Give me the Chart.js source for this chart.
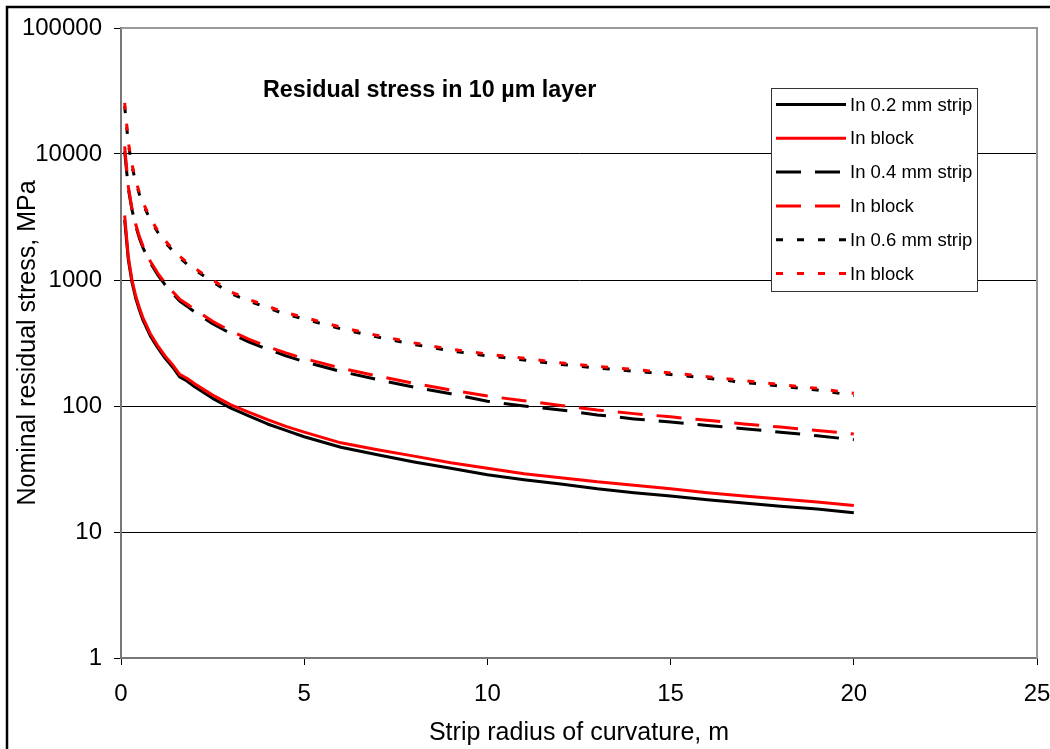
<!DOCTYPE html>
<html>
<head>
<meta charset="utf-8">
<script src="https://cdn.jsdelivr.net/npm/chart.js@4.4.1/dist/chart.umd.min.js"></script>
<style>
  body { margin: 0; background: #fff; }
  #wrap { width: 1050px; height: 749px; position: relative; }
</style>
</head>
<body>
<div id="wrap"><canvas id="myChart"></canvas></div>
<script>
// strip radius of curvature, m
const radius = [0.1, 0.2, 0.3, 0.4, 0.5, 0.6, 0.8, 1.0, 1.2, 1.4, 1.6, 1.8, 2.0, 2.5, 3, 3.5, 4, 4.5, 5,
  6, 7, 8, 9, 10, 11, 12, 13, 14, 15, 16, 17, 18, 19, 20];

// nominal residual stress, MPa
const strip02 = [3000, 1450, 960, 720, 580, 480, 360, 290, 240, 205, 170, 158, 143, 115, 96, 83, 72, 64, 57,
  47, 41, 36, 32, 28.5, 26, 24, 22, 20.5, 19.3, 18, 17, 16, 15.2, 14.2];
const block02 = [3250, 1520, 1000, 750, 605, 500, 375, 302, 250, 214, 178, 166, 151, 122, 102, 89, 78, 69, 62,
  51, 45, 40, 35.5, 32, 29, 27, 25, 23.5, 22, 20.5, 19.3, 18.3, 17.3, 16.2];
const strip04 = [10500, 5300, 3600, 2700, 2150, 1800, 1370, 1100, 920, 790, 680, 620, 560, 450, 375, 322, 282, 250, 225,
  188, 162, 141, 125, 109, 100, 93, 85, 79, 74.5, 70, 66, 62, 58, 54];
const block04 = [11500, 5500, 3700, 2780, 2220, 1860, 1410, 1135, 950, 815, 705, 645, 585, 470, 393, 338, 296, 264, 238,
  200, 173, 151, 134, 120, 110, 101, 93, 87, 82, 77, 72, 68, 64, 60];
const strip06 = [24000, 12000, 8000, 6000, 4800, 4000, 3000, 2400, 2000, 1720, 1500, 1340, 1210, 970, 780, 680, 600, 535, 490,
  410, 352, 308, 274, 250, 232, 214, 200, 189, 178, 166, 154, 144, 134, 121];
const block06 = [25500, 12400, 8250, 6200, 4950, 4120, 3090, 2470, 2060, 1770, 1545, 1380, 1245, 1000, 805, 700, 618, 551, 505,
  422, 363, 317, 282, 258, 239, 220, 206, 195, 183, 171, 159, 148, 138, 126];

const seriesNames = ['In 0.2 mm strip', 'In block', 'In 0.4 mm strip', 'In block', 'In 0.6 mm strip', 'In block'];
const xTicks = [0, 5, 10, 15, 20, 25];
const yTicks = [1, 10, 100, 1000, 10000, 100000];

const chartTitle = 'Residual stress in 10 \u00b5m layer';
const FONT = "'Liberation Sans', Arial, sans-serif";

const solid = [];
const longDash = [25, 14];
const shortDash = [7, 14];

function pts(arr) {
  return radius.map((r, i) => ({ x: r, y: arr[i] }));
}

function ds(label, arr, color, dash, order) {
  return {
    label: label,
    data: pts(arr),
    borderColor: color,
    backgroundColor: color,
    borderWidth: 3,
    borderDash: dash,
    borderCapStyle: 'butt',
    borderJoinStyle: 'round',
    pointRadius: 0,
    tension: 0,
    fill: false,
    order: order
  };
}

// frame, plot border, title and legend
const decor = {
  id: 'decor',
  beforeDraw(chart) {
    const c = chart.ctx;
    c.save();
    c.fillStyle = '#fff';
    c.fillRect(0, 0, chart.width, chart.height);
    c.restore();
  },
  afterDraw(chart) {
    const c = chart.ctx;
    const a = chart.chartArea;
    c.save();
    // plot area border (top / right)
    c.strokeStyle = '#999';
    c.lineWidth = 2;
    c.beginPath();
    c.moveTo(a.left, a.top);
    c.lineTo(a.right, a.top);
    c.lineTo(a.right, a.bottom);
    c.stroke();

    // outer frame
    c.strokeStyle = '#000';
    c.lineWidth = 2.5;
    c.beginPath();
    c.moveTo(7, chart.height + 5);
    c.lineTo(7, 7);
    c.lineTo(chart.width + 5, 7);
    c.stroke();

    // title in plot
    c.fillStyle = '#000';
    c.font = 'bold 23.3px ' + FONT;
    c.textAlign = 'left';
    c.textBaseline = 'alphabetic';
    c.fillText(chartTitle, a.left + 142, a.top + 69);

    // legend box
    const bx = 771, by = 88, bw = 206, bh = 203;
    c.fillStyle = '#fff';
    c.fillRect(bx, by, bw, bh);
    c.strokeStyle = '#333';
    c.lineWidth = 1;
    c.strokeRect(bx + 0.5, by + 0.5, bw, bh);

    c.font = '18.5px ' + FONT;
    c.textBaseline = 'middle';
    chart.data.datasets.forEach((d, i) => {
      const y = by + 16.5 + i * 33.8;
      c.strokeStyle = d.borderColor;
      c.lineWidth = 3;
      c.lineCap = 'butt';
      c.setLineDash(d.borderDash);
      c.beginPath();
      c.moveTo(bx + 5, y);
      c.lineTo(bx + 75, y);
      c.stroke();
      c.setLineDash([]);
      c.fillStyle = '#000';
      c.fillText(d.label, bx + 79, y + 1);
    });
    c.restore();
  }
};

const ctx = document.getElementById('myChart').getContext('2d');

const myChart = new Chart(ctx, {
  type: 'line',
  data: {
    datasets: [
      ds(seriesNames[0], strip02, '#000000', solid, 5),
      ds(seriesNames[1], block02, '#ff0000', solid, 4),
      ds(seriesNames[2], strip04, '#000000', longDash, 3),
      ds(seriesNames[3], block04, '#ff0000', longDash, 2),
      ds(seriesNames[4], strip06, '#000000', shortDash, 1),
      ds(seriesNames[5], block06, '#ff0000', shortDash, 0)
    ]
  },
  options: {
    responsive: true,
    maintainAspectRatio: false,
    animation: false,
    devicePixelRatio: 1,
    layout: { padding: { top: 28, right: 13, left: 0, bottom: 0 } },
    plugins: {
      legend: { display: false },
      tooltip: { enabled: false },
      title: { display: false }
    },
    scales: {
      x: {
        type: 'linear',
        min: 0,
        max: 25,
        afterBuildTicks: s => { s.ticks = xTicks.map(v => ({ value: v })); },
        afterFit: s => { s.height = 91; s.paddingLeft = 0; s.paddingRight = 0; },
        grid: {
          drawOnChartArea: false,
          drawTicks: true,
          tickLength: 7,
          tickColor: '#000',
          tickWidth: 1
        },
        border: { color: '#777', width: 2 },
        ticks: {
          color: '#000',
          font: { family: FONT, size: 24 },
          padding: 15,
          maxRotation: 0,
          autoSkip: false
        },
        title: {
          display: true,
          text: 'Strip radius of curvature, m',
          color: '#000',
          font: { family: FONT, size: 25 },
          padding: { top: 0, bottom: 1 }
        }
      },
      y: {
        type: 'logarithmic',
        min: 1,
        max: 100000,
        afterBuildTicks: s => { s.ticks = yTicks.map(v => ({ value: v })); },
        afterFit: s => { s.width = 121; s.paddingTop = 0; s.paddingBottom = 0; },
        grid: {
          color: c => (c.tick && (c.tick.value === 1 || c.tick.value === 100000)) ? 'rgba(0,0,0,0)' : '#000',
          lineWidth: 1,
          drawTicks: true,
          tickLength: 7,
          tickColor: '#000',
          tickWidth: 1
        },
        border: { color: '#777', width: 2 },
        ticks: {
          color: '#000',
          font: { family: FONT, size: 24 },
          padding: 12,
          autoSkip: false,
          callback: v => String(v)
        },
        title: {
          display: true,
          text: 'Nominal residual stress, MPa',
          color: '#000',
          font: { family: FONT, size: 25 },
          padding: { top: 13, bottom: 0 }
        }
      }
    }
  },
  plugins: [decor]
});
</script>
</body>
</html>
